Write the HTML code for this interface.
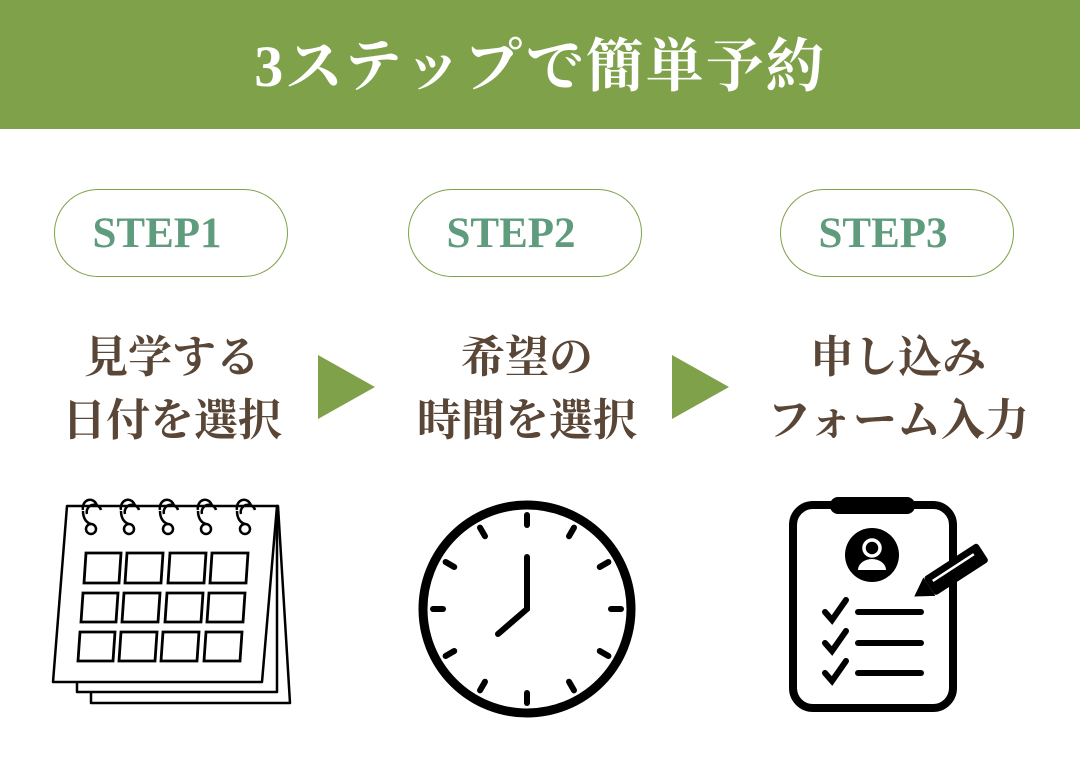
<!DOCTYPE html>
<html><head><meta charset="utf-8"><style>
body{margin:0;width:1080px;height:760px;background:#fff;overflow:hidden;position:relative;font-family:"Liberation Serif","Noto Serif CJK SC",serif}
.hd{position:absolute;left:0;top:0;width:1080px;height:129px;background:#7fa14a;color:#fff;font-size:58px;font-weight:bold;text-align:center;line-height:134px;letter-spacing:2px}
.pill{position:absolute;top:189px;width:232px;height:86px;border:1.6px solid #7fa14a;border-radius:44px;color:#5f9b7d;font-size:43px;font-weight:bold;text-align:center;line-height:88px;box-sizing:content-box}
.pill span{position:relative;left:-14px}
.tx{position:absolute;top:326px;width:340px;text-align:center;color:#5a4636;font-size:44px;font-weight:bold;line-height:63px}
</style></head><body>
<div class="hd">3ステップで簡単予約</div>
<div class="pill" style="left:54px"><span>STEP1</span></div>
<div class="pill" style="left:408px"><span>STEP2</span></div>
<div class="pill" style="left:780px"><span>STEP3</span></div>
<div class="tx" style="left:2px">見学する<br>日付を選択</div>
<div class="tx" style="left:357px">希望の<br>時間を選択</div>
<div class="tx" style="left:728px">申し込み<br>フォーム入力</div>
<svg width="1080" height="760" style="position:absolute;left:0;top:0">
<polygon points="318,355 375,387 318,419" fill="#7fa14a"/>
<polygon points="672,355 729,387 672,419" fill="#7fa14a"/>
<g fill="#fff" stroke="#000" stroke-width="2.5" stroke-linejoin="round">
<polygon points="278,506 290,703 91,703 91,692"/>
<polygon points="277,506 277,692 77,692 77,682"/>
<polygon points="67,506 277,506 262,682 53,682"/>
</g>
<g fill="none" stroke="#000" stroke-width="2.5">
<g id="r"><path d="M87,514 a7,7 0 0 1 14,-4"/><path d="M83,510 a7,8 0 0 1 14,-4"/><circle cx="91" cy="529" r="5"/><path d="M83,511 c0,8 4,12 8,13"/></g>
<use href="#r" x="38"/><use href="#r" x="77"/><use href="#r" x="115"/><use href="#r" x="154"/>
<g stroke-width="2.8">
<polygon points="86,553 121,553 119,583 84,583"/><polygon points="127,553 163,553 161,583 125,583"/><polygon points="170,553 206,553 204,583 168,583"/><polygon points="212,553 248,553 246,583 210,583"/>
<polygon points="83,593 118,593 116,622 81,622"/><polygon points="124,593 160,593 158,622 122,622"/><polygon points="167,593 203,593 201,622 165,622"/><polygon points="209,593 245,593 243,622 207,622"/>
<polygon points="80,632 115,632 113,661 78,661"/><polygon points="121,632 157,632 155,661 119,661"/><polygon points="163,632 199,632 197,661 161,661"/><polygon points="206,632 242,632 240,661 204,661"/>
</g></g>
<circle cx="527" cy="609" r="104" fill="none" stroke="#000" stroke-width="9"/>
<g stroke="#000" stroke-width="6" stroke-linecap="round">
<g id="t"><line x1="527" y1="515" x2="527" y2="525"/></g>
<use href="#t" transform="rotate(30 527 609)"/><use href="#t" transform="rotate(60 527 609)"/><use href="#t" transform="rotate(90 527 609)"/><use href="#t" transform="rotate(120 527 609)"/><use href="#t" transform="rotate(150 527 609)"/><use href="#t" transform="rotate(180 527 609)"/><use href="#t" transform="rotate(210 527 609)"/><use href="#t" transform="rotate(240 527 609)"/><use href="#t" transform="rotate(270 527 609)"/><use href="#t" transform="rotate(300 527 609)"/><use href="#t" transform="rotate(330 527 609)"/>
<polyline points="527,557 527,609 498,634" fill="none"/>
</g>
<rect x="793" y="505" width="160" height="203" rx="20" fill="none" stroke="#000" stroke-width="8"/>
<rect x="830" y="497" width="85" height="17" rx="8" fill="#000"/>
<circle cx="872" cy="555" r="27" fill="#000"/>
<circle cx="872" cy="548" r="8" fill="none" stroke="#fff" stroke-width="3.5"/>
<path d="M858,570 a14,11 0 0 1 28,0 z" fill="#fff"/>
<rect x="912" y="545" width="22" height="14" fill="#fff"/>
<g transform="rotate(-33 952 572)"><rect x="925" y="561" width="64" height="22" rx="3" fill="#000"/><polygon points="925,561 925,583 907,572" fill="#000"/><line x1="931" y1="569" x2="980" y2="569" stroke="#fff" stroke-width="2.5"/></g>
<g stroke="#000" stroke-width="6" stroke-linecap="round" fill="none">
<polyline points="825,612 832,620 846,600"/><polyline points="825,643 832,651 846,631"/><polyline points="825,673 832,681 846,661"/>
<line x1="858" y1="612" x2="921" y2="612"/><line x1="858" y1="643" x2="921" y2="643"/><line x1="858" y1="673" x2="921" y2="673"/>
</g>
</svg>
</body></html>
